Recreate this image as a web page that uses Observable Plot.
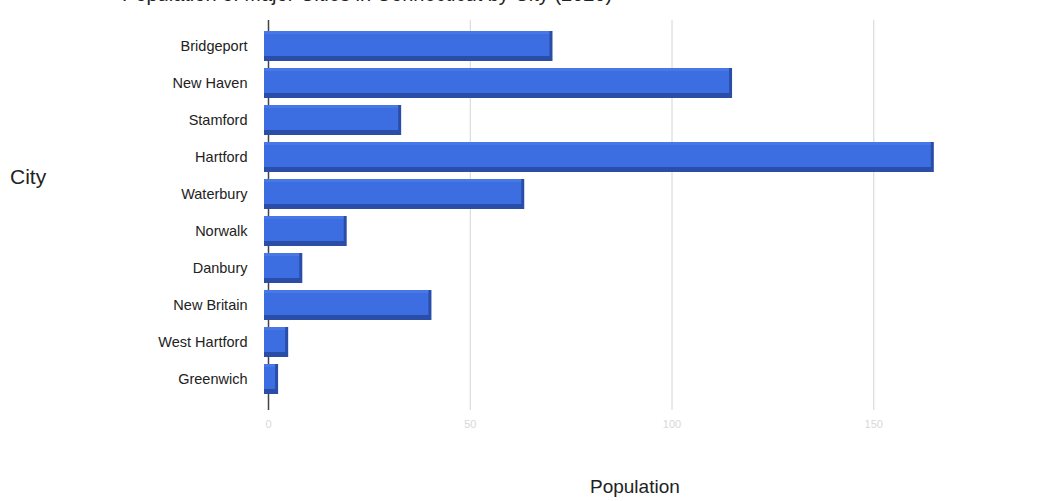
<!DOCTYPE html>
<html>
<head>
<meta charset="utf-8">
<script src="https://cdn.jsdelivr.net/npm/d3@7"></script>
<script src="https://cdn.jsdelivr.net/npm/@observablehq/plot@0.6"></script>
<style>
  body { margin: 0; background: #fff; font-family: "Liberation Sans", Arial, sans-serif; }
  #wrap { position: relative; width: 1060px; height: 501px; overflow: hidden; }
  #title { position: absolute; top: -17px; left: 122px; font-size: 20px; color: #222; white-space: nowrap; }
  #ylab { position: absolute; top: 165px; left: 10px; font-size: 21px; color: #222; }
  #xlab { position: absolute; top: 476px; left: 590px; font-size: 19px; color: #222; }
  #chart { position: absolute; top: 0; left: 0; }
</style>
</head>
<body>
<div id="wrap">
  <div id="chart"></div>
  <div id="title">Population of Major Cities in Connecticut by City (2020)</div>
  <div id="ylab">City</div>
  <div id="xlab">Population</div>
</div>
<script>
const cities = ["Bridgeport", "New Haven", "Stamford", "Hartford", "Waterbury", "Norwalk", "Danbury", "New Britain", "West Hartford", "Greenwich"];
const population = [70.5, 115, 33, 165, 63.5, 19.5, 8.5, 40.5, 5, 2.5];
const xTicks = [0, 50, 100, 150];

const data = cities.map((c, i) => ({city: c, pop: population[i]}));

const chart = Plot.plot({
  width: 1060,
  height: 440,
  marginLeft: 268,
  marginRight: 106,
  marginTop: 20,
  marginBottom: 30,
  style: {fontFamily: "Liberation Sans, Arial, sans-serif", background: "transparent"},
  x: {domain: [0, 170], ticks: xTicks, label: null},
  y: {domain: cities, range: [30, 395], paddingInner: 0.2, paddingOuter: 0, label: null},
  marks: [
    Plot.ruleX(xTicks.slice(1), {stroke: "#d4d4d4", strokeWidth: 1}),
    Plot.ruleX([0], {stroke: "#444", strokeWidth: 1.5}),
    Plot.axisX({ticks: xTicks, tickSize: 0, tickPadding: 10, fontSize: 11, color: "#d8d8d8", label: null}),
    Plot.axisY({tickSize: 0, tickPadding: 21, fontSize: 14.5, color: "#222", label: null}),
    Plot.barX(data, {x: "pop", y: "city", fill: "#2a4ea8", insetLeft: -4}),
    Plot.barX(data, {x: "pop", y: "city", fill: "#3c6ee2", insetBottom: 5, insetRight: 3, insetLeft: -4}),
    Plot.barX(data, {x: "pop", y: "city", fill: "#5482ea", insetBottom: 27, insetRight: 3, insetLeft: -4, fillOpacity: 0.5})
  ]
});
document.getElementById("chart").appendChild(chart);
</script>
</body>
</html>
